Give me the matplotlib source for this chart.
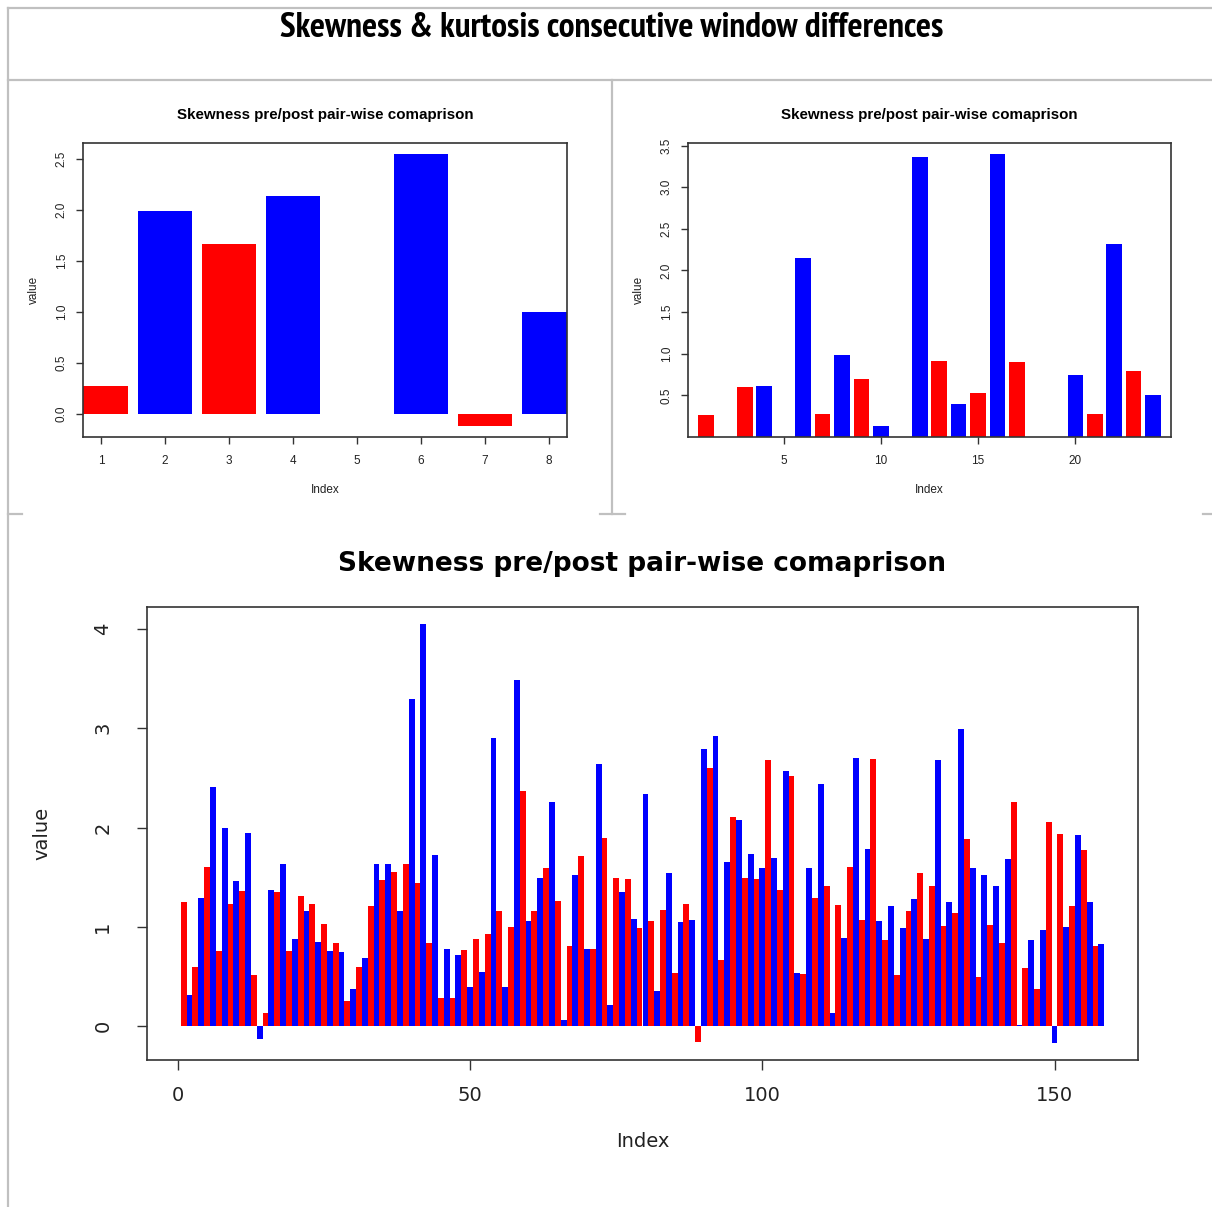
import numpy as np
import matplotlib
matplotlib.use('Agg')
import matplotlib.pyplot as plt
from matplotlib.lines import Line2D

# pre/post pair-wise skewness differences (odd index = pre, even index = post)
skew_short = [0.27, 1.99, 1.67, 2.14, np.nan, 2.55, -0.12, 1.00]

skew_mid = [0.26, np.nan, 0.60, 0.61, np.nan, 2.15, 0.28, 0.99,
            0.70, 0.13, np.nan, 3.36, 0.91, 0.40, 0.53, 3.40,
            0.90, np.nan, np.nan, 0.74, 0.27, 2.32, 0.79, 0.50]

skew_long = [
    1.25, 0.32, 0.60, 1.29, 1.60, 2.41, 0.76, 2.00, 1.23, 1.46,
    1.36, 1.95, 0.52, -0.13, 0.13, 1.37, 1.35, 1.63, 0.76, 0.88,
    1.31, 1.16, 1.23, 0.85, 1.03, 0.76, 0.84, 0.75, 0.25, 0.38,
    0.60, 0.69, 1.21, 1.63, 1.47, 1.63, 1.55, 1.16, 1.63, 3.29,
    1.44, 4.05, 0.84, 1.72, 0.28, 0.78, 0.28, 0.72, 0.77, 0.40,
    0.88, 0.55, 0.93, 2.90, 1.16, 0.40, 1.00, 3.48, 2.37, 1.06,
    1.16, 1.49, 1.59, 2.26, 1.26, 0.06, 0.81, 1.52, 1.71, 0.78,
    0.78, 2.64, 1.89, 0.21, 1.49, 1.35, 1.48, 1.08, 0.99, 2.34,
    1.06, 0.36, 1.17, 1.54, 0.54, 1.05, 1.23, 1.07, -0.16, 2.79,
    2.60, 2.92, 0.67, 1.65, 2.11, 2.08, 1.49, 1.73, 1.48, 1.59,
    2.68, 1.69, 1.37, 2.57, 2.52, 0.54, 0.53, 1.59, 1.29, 2.44,
    1.41, 0.13, 1.22, 0.89, 1.60, 2.70, 1.07, 1.78, 2.69, 1.06,
    0.87, 1.21, 0.52, 0.99, 1.16, 1.28, 1.54, 0.88, 1.41, 2.68,
    1.01, 1.25, 1.14, 2.99, 1.88, 1.59, 0.50, 1.52, 1.02, 1.41,
    0.84, 1.68, 2.26, 0.01, 0.59, 0.87, 0.38, 0.97, 2.06, -0.17,
    1.94, 1.00, 1.21, 1.92, 1.77, 1.25, 0.81, 0.83,
]

short_xticks = [1, 2, 3, 4, 5, 6, 7, 8]
short_yticks = [0.0, 0.5, 1.0, 1.5, 2.0, 2.5]
mid_xticks = [5, 10, 15, 20]
mid_yticks = [0.5, 1.0, 1.5, 2.0, 2.5, 3.0, 3.5]
long_xticks = [0, 50, 100, 150]
long_yticks = [0, 1, 2, 3, 4]

main_title = 'Skewness & kurtosis consecutive window differences'
panel_title = 'Skewness pre/post pair-wise comaprison'

pair_colors = ['#ff0000', '#0000ff']

W, H = 1212, 1207
fig = plt.figure(figsize=(W / 100, H / 100), dpi=100)


def px_rect(x0, y0, x1, y1):
    """axes rectangle from pixel box (top-left origin)"""
    return [x0 / W, 1 - y1 / H, (x1 - x0) / W, (y1 - y0) / H]


def index_plot(rect, vals, width, xticks, yticks, font, sizes, pads, tick_len):
    ax = fig.add_axes(rect)
    vals = np.asarray(vals, dtype=float)
    idx = np.arange(1, len(vals) + 1)
    colors = [pair_colors[(i - 1) % 2] for i in idx]
    ax.bar(idx, vals, width=width, color=colors, linewidth=0)

    # R-style 4% padding around the data range
    n = len(vals)
    ax.set_xlim(1 - 0.04 * (n - 1), n + 0.04 * (n - 1))
    lo, hi = np.nanmin(vals), np.nanmax(vals)
    pad = 0.04 * (hi - lo)
    ax.set_ylim(min(lo - pad, 0), hi + pad)

    ax.set_xticks(xticks)
    ax.set_yticks(yticks)
    ax.set_xticklabels([f'{t:g}' for t in xticks])
    if isinstance(yticks[0], float):
        ax.set_yticklabels([f'{t:.1f}' for t in yticks])
    else:
        ax.set_yticklabels([str(t) for t in yticks])

    tick_size, label_size = sizes
    xpad, ypad, xlabpad, ylabpad = pads
    ax.tick_params(axis='both', direction='out', length=tick_len, width=1.0,
                   color='#333333', labelsize=tick_size, labelcolor='#222222')
    ax.tick_params(axis='x', pad=xpad)
    ax.tick_params(axis='y', pad=ypad)
    for lab in ax.get_xticklabels() + ax.get_yticklabels():
        lab.set_family(font)
    for lab in ax.get_yticklabels():
        lab.set_rotation(90)
        lab.set_va('center')
    for sp in ax.spines.values():
        sp.set_color('#333333')
        sp.set_linewidth(1.2)

    ax.set_xlabel('Index', family=font, fontsize=label_size,
                  color='#222222', labelpad=xlabpad)
    ax.set_ylabel('value', family=font, fontsize=label_size,
                  color='#222222', labelpad=ylabpad)
    return ax


small_font = ['Liberation Sans', 'DejaVu Sans']
wide_font = ['DejaVu Sans']
narrow_font = ['Liberation Sans Narrow', 'Arial Narrow', 'PT Sans Narrow',
               'Archivo Narrow', 'Roboto Condensed', 'Liberation Sans']

ax1 = index_plot(px_rect(83, 143, 567, 437), skew_short, 0.84,
                 short_xticks, short_yticks, small_font, (8.5, 8.5),
                 (8, 6, 12, 11), 5)
ax1.set_title(panel_title, family=small_font, fontsize=10.9,
              fontweight='bold', pad=17)

ax2 = index_plot(px_rect(688, 143, 1171, 437), skew_mid, 0.8,
                 mid_xticks, mid_yticks, small_font, (8.5, 8.5),
                 (8, 6, 12, 11), 5)
ax2.set_title(panel_title, family=small_font, fontsize=10.9,
              fontweight='bold', pad=17)

ax3 = index_plot(px_rect(147, 607, 1138, 1060), skew_long, 1.0,
                 long_xticks, long_yticks, wide_font, (14, 14),
                 (12, 18, 19, 30), 7)
ax3.set_title(panel_title, family=wide_font, fontsize=19,
              fontweight='bold', pad=26)

fig.text(612 / W, 1 - 28 / H, main_title, family=narrow_font,
         fontsize=25.5, fontweight='bold', ha='center', va='center')

# light grey panel frame lines
frame_segments = [
    ((8, 1212), (8, 8)),
    ((8, 8), (8, 1207)),
    ((8, 1212), (80, 80)),
    ((612, 612), (80, 514)),
    ((8, 22), (514, 514)),
    ((600, 625), (514, 514)),
    ((1203, 1212), (514, 514)),
]
for xs, ys in frame_segments:
    fig.add_artist(Line2D([x / W for x in xs], [1 - y / H for y in ys],
                          color='#c0c0c0', linewidth=1.6))

fig.savefig('out.png', dpi=100, facecolor='white')
